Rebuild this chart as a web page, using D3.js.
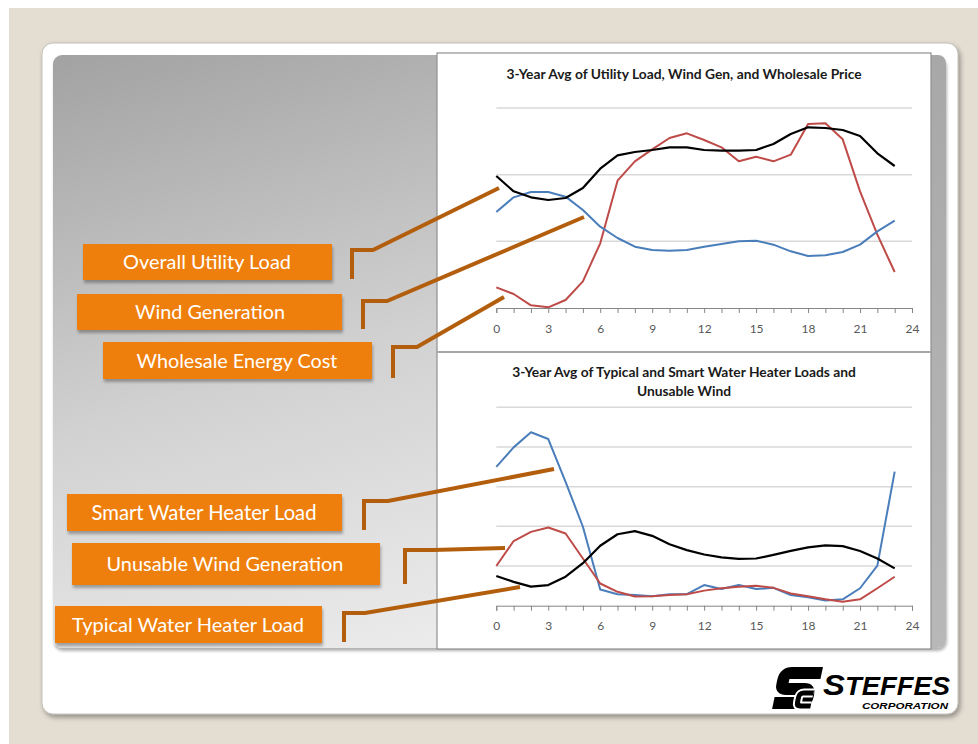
<!DOCTYPE html>
<html>
<head>
<meta charset="utf-8">
<script src="https://cdn.jsdelivr.net/npm/d3@7"></script>
<style>
  body { margin: 0; background: #fff; }
  svg { display: block; }
</style>
</head>
<body>
<svg id="chart" width="978" height="744"></svg>
<script>
// =============================
// Slide: utility load / wind / water heater charts
// =============================

// Hour of day, 0..23
const hours = d3.range(0, 24);
const hourTicks = [0, 3, 6, 9, 12, 15, 18, 21, 24];

// Top chart series (relative units)
const utilityLoad = [1.98, 1.75, 1.66, 1.62, 1.65, 1.80, 2.09, 2.29, 2.34, 2.37, 2.41, 2.41,
	2.37, 2.36, 2.36, 2.37, 2.46, 2.61, 2.71, 2.70, 2.67, 2.58, 2.32, 2.13];
const windGen = [1.44, 1.66, 1.74, 1.74, 1.67, 1.47, 1.22, 1.05, 0.92, 0.87, 0.86, 0.87,
	0.92, 0.96, 1.00, 1.01, 0.95, 0.85, 0.78, 0.79, 0.84, 0.95, 1.15, 1.31];
const wholesalePrice = [0.31, 0.21, 0.04, 0.01, 0.12, 0.40, 0.97, 1.91, 2.20, 2.38, 2.55, 2.62,
	2.52, 2.41, 2.20, 2.27, 2.20, 2.30, 2.76, 2.77, 2.53, 1.75, 1.10, 0.54];

// Bottom chart series
const smartHeater = [3.50, 3.99, 4.37, 4.20, 3.12, 1.99, 0.41, 0.29, 0.27, 0.24, 0.29, 0.29,
	0.52, 0.42, 0.52, 0.42, 0.45, 0.27, 0.21, 0.13, 0.16, 0.44, 1.01, 3.38];
const unusableWind = [1.00, 1.63, 1.86, 1.97, 1.82, 1.19, 0.56, 0.35, 0.23, 0.24, 0.27, 0.29,
	0.38, 0.44, 0.48, 0.50, 0.45, 0.31, 0.24, 0.16, 0.10, 0.16, 0.44, 0.73];
const typicalHeater = [0.75, 0.60, 0.48, 0.52, 0.73, 1.07, 1.51, 1.80, 1.88, 1.76, 1.55, 1.40,
	1.29, 1.22, 1.18, 1.19, 1.28, 1.38, 1.47, 1.52, 1.50, 1.38, 1.19, 0.94];

const topTitle = ["3-Year Avg of Utility Load, Wind Gen, and Wholesale Price"];
const bottomTitle = ["3-Year Avg of Typical and Smart Water Heater Loads and", "Unusable Wind"];

const topLabels = ["Overall Utility Load", "Wind Generation", "Wholesale Energy Cost"];
const bottomLabels = ["Smart Water Heater Load", "Unusable Wind Generation", "Typical Water Heater Load"];

// Colours
const black = "#000000", blue = "#4a7ebb", red = "#be4b48";
const orange = "#ef7f0b", leader = "#b35e0c";

const svg = d3.select("#chart");
const defs = svg.append("defs");

// Background and card
svg.append("rect").attr("x", 9).attr("y", 8).attr("width", 969).attr("height", 736).attr("fill", "#e3ddd2");

const shadow = defs.append("filter").attr("id", "shadow").attr("x", "-5%").attr("y", "-5%").attr("width", "115%").attr("height", "115%");
shadow.append("feDropShadow").attr("dx", 2).attr("dy", 3).attr("stdDeviation", 2.5).attr("flood-color", "#000").attr("flood-opacity", 0.35);
const boxShadow = defs.append("filter").attr("id", "boxShadow").attr("x", "-5%").attr("y", "-20%").attr("width", "115%").attr("height", "150%");
boxShadow.append("feDropShadow").attr("dx", 1).attr("dy", 3).attr("stdDeviation", 1.5).attr("flood-color", "#000").attr("flood-opacity", 0.3);

svg.append("rect")
	.attr("x", 42).attr("y", 43).attr("width", 916).attr("height", 671)
	.attr("rx", 11).attr("fill", "#fff").attr("stroke", "#b9b4ac").attr("stroke-width", 0.8)
	.attr("filter", "url(#shadow)");

const grad = defs.append("linearGradient").attr("id", "panelGrad")
	.attr("x1", "0").attr("y1", "0").attr("x2", "0.45").attr("y2", "1");
grad.append("stop").attr("offset", "0%").attr("stop-color", "#a2a2a2");
grad.append("stop").attr("offset", "55%").attr("stop-color", "#d2d2d2");
grad.append("stop").attr("offset", "100%").attr("stop-color", "#ececec");

svg.append("rect")
	.attr("x", 53).attr("y", 55).attr("width", 893).attr("height", 593)
	.attr("rx", 9).attr("fill", "url(#panelGrad)")
	.attr("filter", "url(#boxShadow)");

// Right strip of the panel next to the charts
const stripGrad = defs.append("linearGradient").attr("id", "stripGrad").attr("x1", 0).attr("y1", 0).attr("x2", 0).attr("y2", 1);
stripGrad.append("stop").attr("offset", "0%").attr("stop-color", "#a8a8a8");
stripGrad.append("stop").attr("offset", "100%").attr("stop-color", "#b8b8b8");
svg.append("path")
	.attr("d", "M931,55 H937 Q946,55 946,64 V639 Q946,648 937,648 H931 Z")
	.attr("fill", "url(#stripGrad)");

// Chart box
svg.append("rect")
	.attr("x", 437).attr("y", 53).attr("width", 494).attr("height", 596)
	.attr("fill", "#fff").attr("stroke", "#8f8f8f").attr("stroke-width", 1.2);
svg.append("line")
	.attr("x1", 437).attr("x2", 931).attr("y1", 352).attr("y2", 352)
	.attr("stroke", "#a6a6a6").attr("stroke-width", 2);

// Draw one line chart
function drawPanel(opts) {
	const x = d3.scaleLinear().domain([0, 24]).range([496.3, 912]);
	const y = d3.scaleLinear().domain([0, opts.max]).range([opts.base, opts.top]);
	const g = svg.append("g");

	// gridlines
	g.selectAll(".grid")
		.data(d3.range(1, opts.max + 1))
		.enter()
		.append("line")
		.attr("x1", x(0)).attr("x2", x(24))
		.attr("y1", d => y(d)).attr("y2", d => y(d))
		.attr("stroke", "#d9d9d9").attr("stroke-width", 1.5);

	// minor ticks, every hour
	g.append("g")
		.attr("transform", `translate(0,${y(0)})`)
		.call(d3.axisBottom(x).tickValues(d3.range(0, 25)).tickSize(5).tickFormat(""))
		.call(a => a.select(".domain").attr("stroke", "#868686"))
		.call(a => a.selectAll(".tick line").attr("stroke", "#868686"));

	// labelled ticks
	g.append("g")
		.attr("transform", `translate(0,${y(0)})`)
		.call(d3.axisBottom(x).tickValues(hourTicks).tickSize(0).tickPadding(16))
		.call(a => a.select(".domain").remove())
		.call(a => a.selectAll("text")
			.style("fill", "#595959")
			.style("font-family", "Lato, 'Open Sans', sans-serif")
			.style("font-size", "12px"));

	// title
	g.append("text")
		.attr("x", 684).attr("y", opts.titleY)
		.attr("text-anchor", "middle")
		.style("font-family", "Lato, 'Open Sans', sans-serif")
		.style("font-weight", "bold")
		.style("font-size", "13.8px")
		.attr("fill", "#1a1a1a")
		.selectAll("tspan")
		.data(opts.title)
		.enter()
		.append("tspan")
		.attr("x", 684)
		.attr("dy", (d, i) => i === 0 ? 0 : 18.5)
		.text(d => d);

	const line = d3.line().x((d, i) => x(hours[i])).y(d => y(d));
	opts.series.forEach(s => {
		g.append("path")
			.datum(s.values)
			.attr("d", line)
			.attr("fill", "none")
			.attr("stroke", s.color)
			.attr("stroke-width", s.width)
			.attr("stroke-linejoin", "round");
	});
}

drawPanel({
	max: 3, base: 308, top: 108, titleY: 79, title: topTitle,
	series: [
		{values: wholesalePrice, color: red, width: 2},
		{values: windGen, color: blue, width: 2},
		{values: utilityLoad, color: black, width: 2.2}
	]
});

drawPanel({
	max: 5, base: 605.7, top: 407.3, titleY: 377, title: bottomTitle,
	series: [
		{values: smartHeater, color: blue, width: 2},
		{values: unusableWind, color: red, width: 2},
		{values: typicalHeater, color: black, width: 2.2}
	]
});

// Annotation boxes with bracket leaders
const boxLayout = [
	{x: 83, y: 244, w: 249, h: 36, cx: 207, width: 168, bx: 352, elbow: [373, 250], tip: [499, 188]},
	{x: 77, y: 294, w: 265, h: 36, cx: 210, width: 150, bx: 363, elbow: [387, 301], tip: [584, 217]},
	{x: 103, y: 342, w: 269, h: 37, cx: 237, width: 201, bx: 393, elbow: [417, 347], tip: [504, 297]},
	{x: 67, y: 494, w: 275, h: 37, cx: 204, width: 225, bx: 364, elbow: [388, 501], tip: [554, 469]},
	{x: 72, y: 543, w: 308, h: 42, cx: 225, width: 237, bx: 405, elbow: [433, 550], tip: [505, 548]},
	{x: 55, y: 606, w: 267, h: 37, cx: 188, width: 232, bx: 344, elbow: [365, 613], tip: [520, 587]}
];
const labels = topLabels.concat(bottomLabels);

const ann = svg.append("g").selectAll("g")
	.data(labels)
	.enter()
	.append("g");

ann.append("rect")
	.attr("x", (d, i) => boxLayout[i].x).attr("y", (d, i) => boxLayout[i].y)
	.attr("width", (d, i) => boxLayout[i].w).attr("height", (d, i) => boxLayout[i].h)
	.attr("fill", orange)
	.attr("filter", "url(#boxShadow)");

ann.append("text")
	.attr("x", (d, i) => boxLayout[i].cx)
	.attr("y", (d, i) => boxLayout[i].y + boxLayout[i].h / 2)
	.attr("dy", "0.36em")
	.attr("text-anchor", "middle")
	.attr("fill", "#fff")
	.style("font-family", "Lato, 'Open Sans', sans-serif")
	.style("font-size", "19px")
	.text(d => d)
	.each(function(d, i) {
		// fit to the width seen in the picture
		const len = this.getComputedTextLength();
		d3.select(this).style("font-size", (19 * boxLayout[i].width / len).toFixed(2) + "px");
	});

ann.append("path")
	.attr("d", (d, i) => {
		const b = boxLayout[i];
		return `M${b.bx},${b.y + b.h - 1} V${b.elbow[1]} H${b.elbow[0]} L${b.tip[0]},${b.tip[1]}`;
	})
	.attr("fill", "none")
	.attr("stroke", leader)
	.attr("stroke-width", 4);

// Logo
const logo = svg.append("g").attr("transform", "translate(778,667)");
const mark = logo.append("g").attr("transform", "skewX(-12)");
mark.append("path")
	.attr("d", "M45,6 H14 Q8,6 8,12 V17 Q8,22 14,22 H30 Q36,22 36,28 V30 Q36,36 30,36 H3")
	.attr("fill", "none").attr("stroke", "#000").attr("stroke-width", 12).attr("stroke-linejoin", "round");
mark.append("path")
	.attr("d", "M41,26 H31 Q27,26 27,30 V35 Q27,39 31,39 H41")
	.attr("fill", "none").attr("stroke", "#fff").attr("stroke-width", 9);
mark.append("path")
	.attr("d", "M41,26 H31 Q27,26 27,30 V35 Q27,39 31,39 H41")
	.attr("fill", "none").attr("stroke", "#000").attr("stroke-width", 5);

const brand = logo.append("text")
	.attr("x", 45).attr("y", 28)
	.attr("textLength", 127).attr("lengthAdjust", "spacingAndGlyphs")
	.style("font-family", "'Liberation Sans', Arial, sans-serif")
	.style("font-weight", "bold").style("font-style", "italic")
	.attr("fill", "#000");
brand.append("tspan").style("font-size", "30px").text("S");
brand.append("tspan").style("font-size", "25px").text("TEFFES");
logo.append("text")
	.attr("x", 84).attr("y", 42)
	.attr("textLength", 86).attr("lengthAdjust", "spacingAndGlyphs")
	.style("font-family", "'Liberation Sans', Arial, sans-serif")
	.style("font-weight", "bold").style("font-style", "italic")
	.style("font-size", "8.5px")
	.attr("fill", "#000")
	.text("CORPORATION");
</script>
</body>
</html>
